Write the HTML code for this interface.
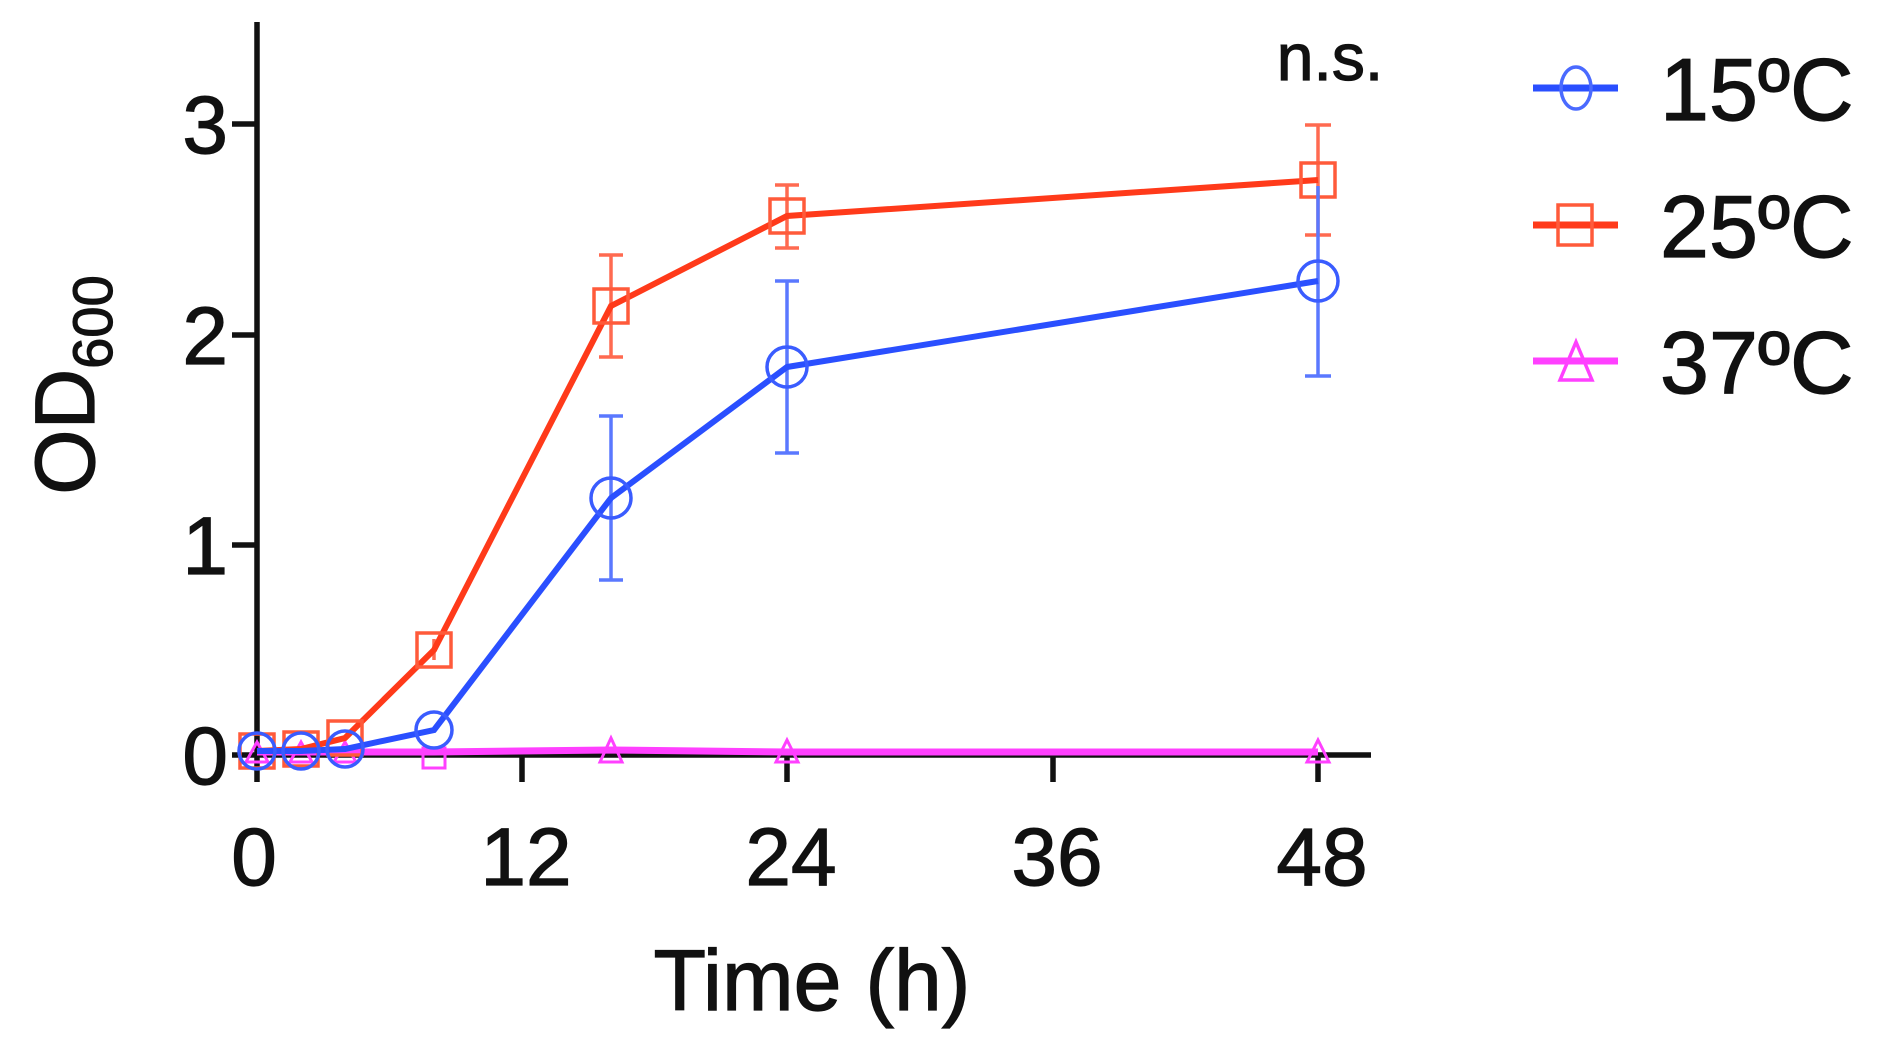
<!DOCTYPE html>
<html><head><meta charset="utf-8"><style>
html,body{margin:0;padding:0;background:#fff;}
svg{display:block;}
text{font-family:"Liberation Sans",sans-serif;fill:#111;stroke:#111;stroke-width:1.2;}
</style></head><body>
<svg width="1877" height="1048" viewBox="0 0 1877 1048" xmlns="http://www.w3.org/2000/svg">
<g stroke="#111" stroke-width="5.5" fill="none">
<line x1="257" y1="22" x2="257" y2="782"/>
<line x1="232" y1="755" x2="1371" y2="755"/>
<line x1="232" y1="124" x2="257" y2="124"/>
<line x1="232" y1="335" x2="257" y2="335"/>
<line x1="232" y1="545" x2="257" y2="545"/>
<line x1="522" y1="755" x2="522" y2="782"/>
<line x1="787" y1="755" x2="787" y2="782"/>
<line x1="1053" y1="755" x2="1053" y2="782"/>
<line x1="1318" y1="755" x2="1318" y2="782"/>
</g>
<g font-size="82" text-anchor="end">
<text x="228" y="153">3</text>
<text x="228" y="364">2</text>
<text x="228" y="574">1</text>
<text x="228" y="784">0</text>
</g>
<g font-size="82" text-anchor="middle">
<text x="254" y="885">0</text>
<text x="526" y="885">12</text>
<text x="791" y="885">24</text>
<text x="1057" y="885">36</text>
<text x="1322" y="885">48</text>
</g>
<text x="812" y="1010" font-size="86" text-anchor="middle">Time (h)</text>
<text transform="translate(94,385) rotate(-90)" font-size="84" text-anchor="middle">OD<tspan font-size="56" dy="18">600</tspan></text>
<text x="1330" y="80" font-size="66" text-anchor="middle">n.s.</text>

<g stroke="#ff40ff" stroke-width="7" fill="none">
<polyline points="257,752 301,752 345,752 434,752 611,750 787,752 1318,752"/>
<g stroke-width="3">
<path d="M246,762 L257,742 L268,762 Z"/><path d="M290,762 L301,742 L312,762 Z"/><path d="M334,762 L345,742 L356,762 Z"/>
<rect x="423" y="748" width="22" height="20"/>
<path d="M600,762 L611,738 L622,762 Z"/><path d="M776,762 L787,740 L798,762 Z"/><path d="M1307,762 L1318,740 L1329,762 Z"/>
</g>
</g>
<g stroke="#ff3a1a" fill="none">
<g stroke-width="3.5" stroke="#ff6a50">
<line x1="434" y1="639" x2="434" y2="660"/>
<line x1="611" y1="255" x2="611" y2="357"/><line x1="599" y1="255" x2="623" y2="255"/><line x1="599" y1="357" x2="623" y2="357"/>
<line x1="787" y1="185" x2="787" y2="248"/><line x1="775" y1="185" x2="799" y2="185"/><line x1="775" y1="248" x2="799" y2="248"/>
<line x1="1318" y1="125" x2="1318" y2="235"/><line x1="1305" y1="125" x2="1331" y2="125"/><line x1="1305" y1="235" x2="1331" y2="235"/>
</g>
<polyline stroke-width="6" points="257,751 301,749 345,738 434,650 611,306 787,216 1318,180"/>
<g stroke-width="3.5" stroke="#ff5a3a">
<rect x="240" y="734" width="34" height="34"/><rect x="284" y="732" width="34" height="34"/><rect x="328" y="721" width="34" height="34"/>
<rect x="417" y="633" width="34" height="34"/><rect x="594" y="289" width="34" height="34"/><rect x="770" y="199" width="34" height="34"/><rect x="1301" y="163" width="34" height="34"/>
</g>
</g>
<g stroke="#2a4fff" fill="none">
<g stroke-width="3.5" stroke="#5a78ff">
<line x1="611" y1="416" x2="611" y2="580"/><line x1="599" y1="416" x2="623" y2="416"/><line x1="599" y1="580" x2="623" y2="580"/>
<line x1="787" y1="281" x2="787" y2="453"/><line x1="775" y1="281" x2="799" y2="281"/><line x1="775" y1="453" x2="799" y2="453"/>
<line x1="1318" y1="186" x2="1318" y2="376"/><line x1="1305" y1="376" x2="1331" y2="376"/>
</g>
<polyline stroke-width="6" points="257,751 301,751 345,749 434,730 611,498 787,367 1318,281"/>
<g stroke-width="3.5" stroke="#3a5cff">
<circle cx="257" cy="751" r="18"/><circle cx="301" cy="751" r="18"/><circle cx="345" cy="749" r="18"/><circle cx="434" cy="730" r="18"/>
<circle cx="611" cy="498" r="20"/><circle cx="787" cy="367" r="20"/><circle cx="1318" cy="281" r="20"/>
</g>
</g>

<g fill="none">
<line x1="1533" y1="88" x2="1618" y2="88" stroke="#2a4fff" stroke-width="7"/>
<ellipse cx="1576" cy="88" rx="15" ry="21" stroke="#4a6aff" stroke-width="3.5"/>
<line x1="1533" y1="225" x2="1618" y2="225" stroke="#ff3a1a" stroke-width="7"/>
<rect x="1558" y="205" width="34" height="40" stroke="#ff5a3a" stroke-width="3.5"/>
<line x1="1533" y1="361" x2="1618" y2="361" stroke="#ff40ff" stroke-width="7"/>
<path d="M1560,380 L1576,342 L1592,380 Z" stroke="#ff40ff" stroke-width="3.5"/>
</g>
<g font-size="88">
<text x="1660" y="120">15ºC</text>
<text x="1660" y="257">25ºC</text>
<text x="1660" y="393">37ºC</text>
</g>
</svg>
</body></html>
